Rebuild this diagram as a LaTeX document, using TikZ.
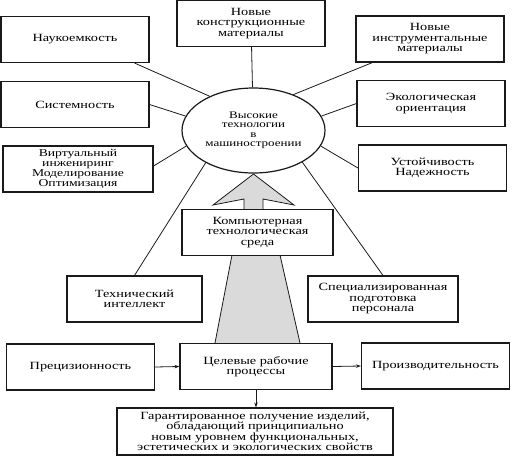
\documentclass[tikz,border=0pt]{standalone}
\usepackage{fontspec}
\setmainfont[FakeStretch=1.3]{Liberation Serif}
\usepackage{tikz}
\usetikzlibrary{arrows.meta,calc,shapes.geometric}
\definecolor{blackline}{HTML}{1A1A1A}
\definecolor{grayfill}{HTML}{DADADA}
\tikzset{every node/.append style={font=\fontsize{11}{10.5}\selectfont},
  itembox/.style={draw=blackline,line width=1.1pt,fill=white,align=center,
    minimum width=148pt,minimum height=46pt,inner sep=1pt},
  link/.style={blackline,line width=0.8pt}}

\begin{document}
\begin{tikzpicture}[x=1pt,y=-1pt,>={Stealth[length=5pt,width=3.5pt]}]
  \useasboundingbox (0,0) rectangle (512,456);
  % gray arrow and stream
  \fill[grayfill] (232,255)--(280,255)--(300,343)--(215,343)--cycle;
  \draw[link] (232,255)--(215,343);
  \draw[link] (280,255)--(300,343);
  \draw[link,fill=grayfill] (244,212)--(244,199)--(213,205)--(253.5,174)
    --(294,205)--(263,199)--(263,212);
  % outer nodes
  \node[itembox] (nauk) at (75,39.5) {Наукоемкость};
  \node[itembox] (konstr) at (251,23.5) {Новые\\конструкционные\\материалы};
  \node[itembox] (instr) at (430,39) {Новые\\инструментальные\\материалы};
  \node[itembox] (sist) at (75,104.5) {Системность};
  \node[itembox] (ekol) at (431,103.5) {Экологическая\\ориентация};
  \node[itembox,minimum width=150pt,font=\fontsize{10.5}{10}\selectfont] (virt) at (78,169)
    {Виртуальный\\инжениринг\\Моделирование\\Оптимизация};
  \node[itembox] (ust) at (432.5,168) {Устойчивость\\Надежность};
  \node[itembox,minimum width=151pt] (komp) at (257.5,232.5) {Компьютерная\\технологическая\\среда};
  \node[itembox,minimum width=135pt] (tekh) at (134.5,299) {Технический\\интеллект};
  \node[itembox,minimum width=150pt] (spec) at (383,299) {Специализированная\\подготовка\\персонала};
  \node[itembox] (prec) at (80.5,367) {Прецизионность};
  \node[itembox,minimum width=152pt] (cel) at (256,366.5) {Целевые рабочие\\процессы};
  \node[itembox] (proizv) at (435.5,366) {Производительность};
  \node[itembox,minimum width=276pt,minimum height=47pt] (garant) at (255,431.5)
    {Гарантированное получение изделий,\\обладающий принципиально\\новым уровнем функциональных,\\эстетических и экологических свойств};
  % center
  \node[ellipse,draw=blackline,line width=1.2pt,fill=white,minimum width=143pt,
    minimum height=85pt,inner sep=0,align=center,font=\fontsize{10}{9.5}\selectfont] (ell)
    at (253.5,130.5) {Высокие\\технологии\\в\\машиностроении};
  % links
  \draw[link] ([xshift=-15pt]nauk.south east)--(ell.142);
  \draw[link] (konstr)--(ell);
  \draw[link] ([xshift=17pt]instr.south west)--(ell.42);
  \draw[link] (sist.east)--(ell.168);
  \draw[link] (ekol.west)--(ell.12);
  \draw[link] ([yshift=3pt]virt.east)--(ell.193);
  \draw[link] (ust.west)--(ell.347);
  \draw[link] (ell.214)--(tekh.north);
  \draw[link] (ell.327)--(spec.north);
  \draw[link,->] (prec.east)--(cel.west);
  \draw[link,->] (cel.east)--(proizv.west);
  \draw[link,->] (cel.south)--(cel.south |- garant.north);
\end{tikzpicture}
\end{document}
